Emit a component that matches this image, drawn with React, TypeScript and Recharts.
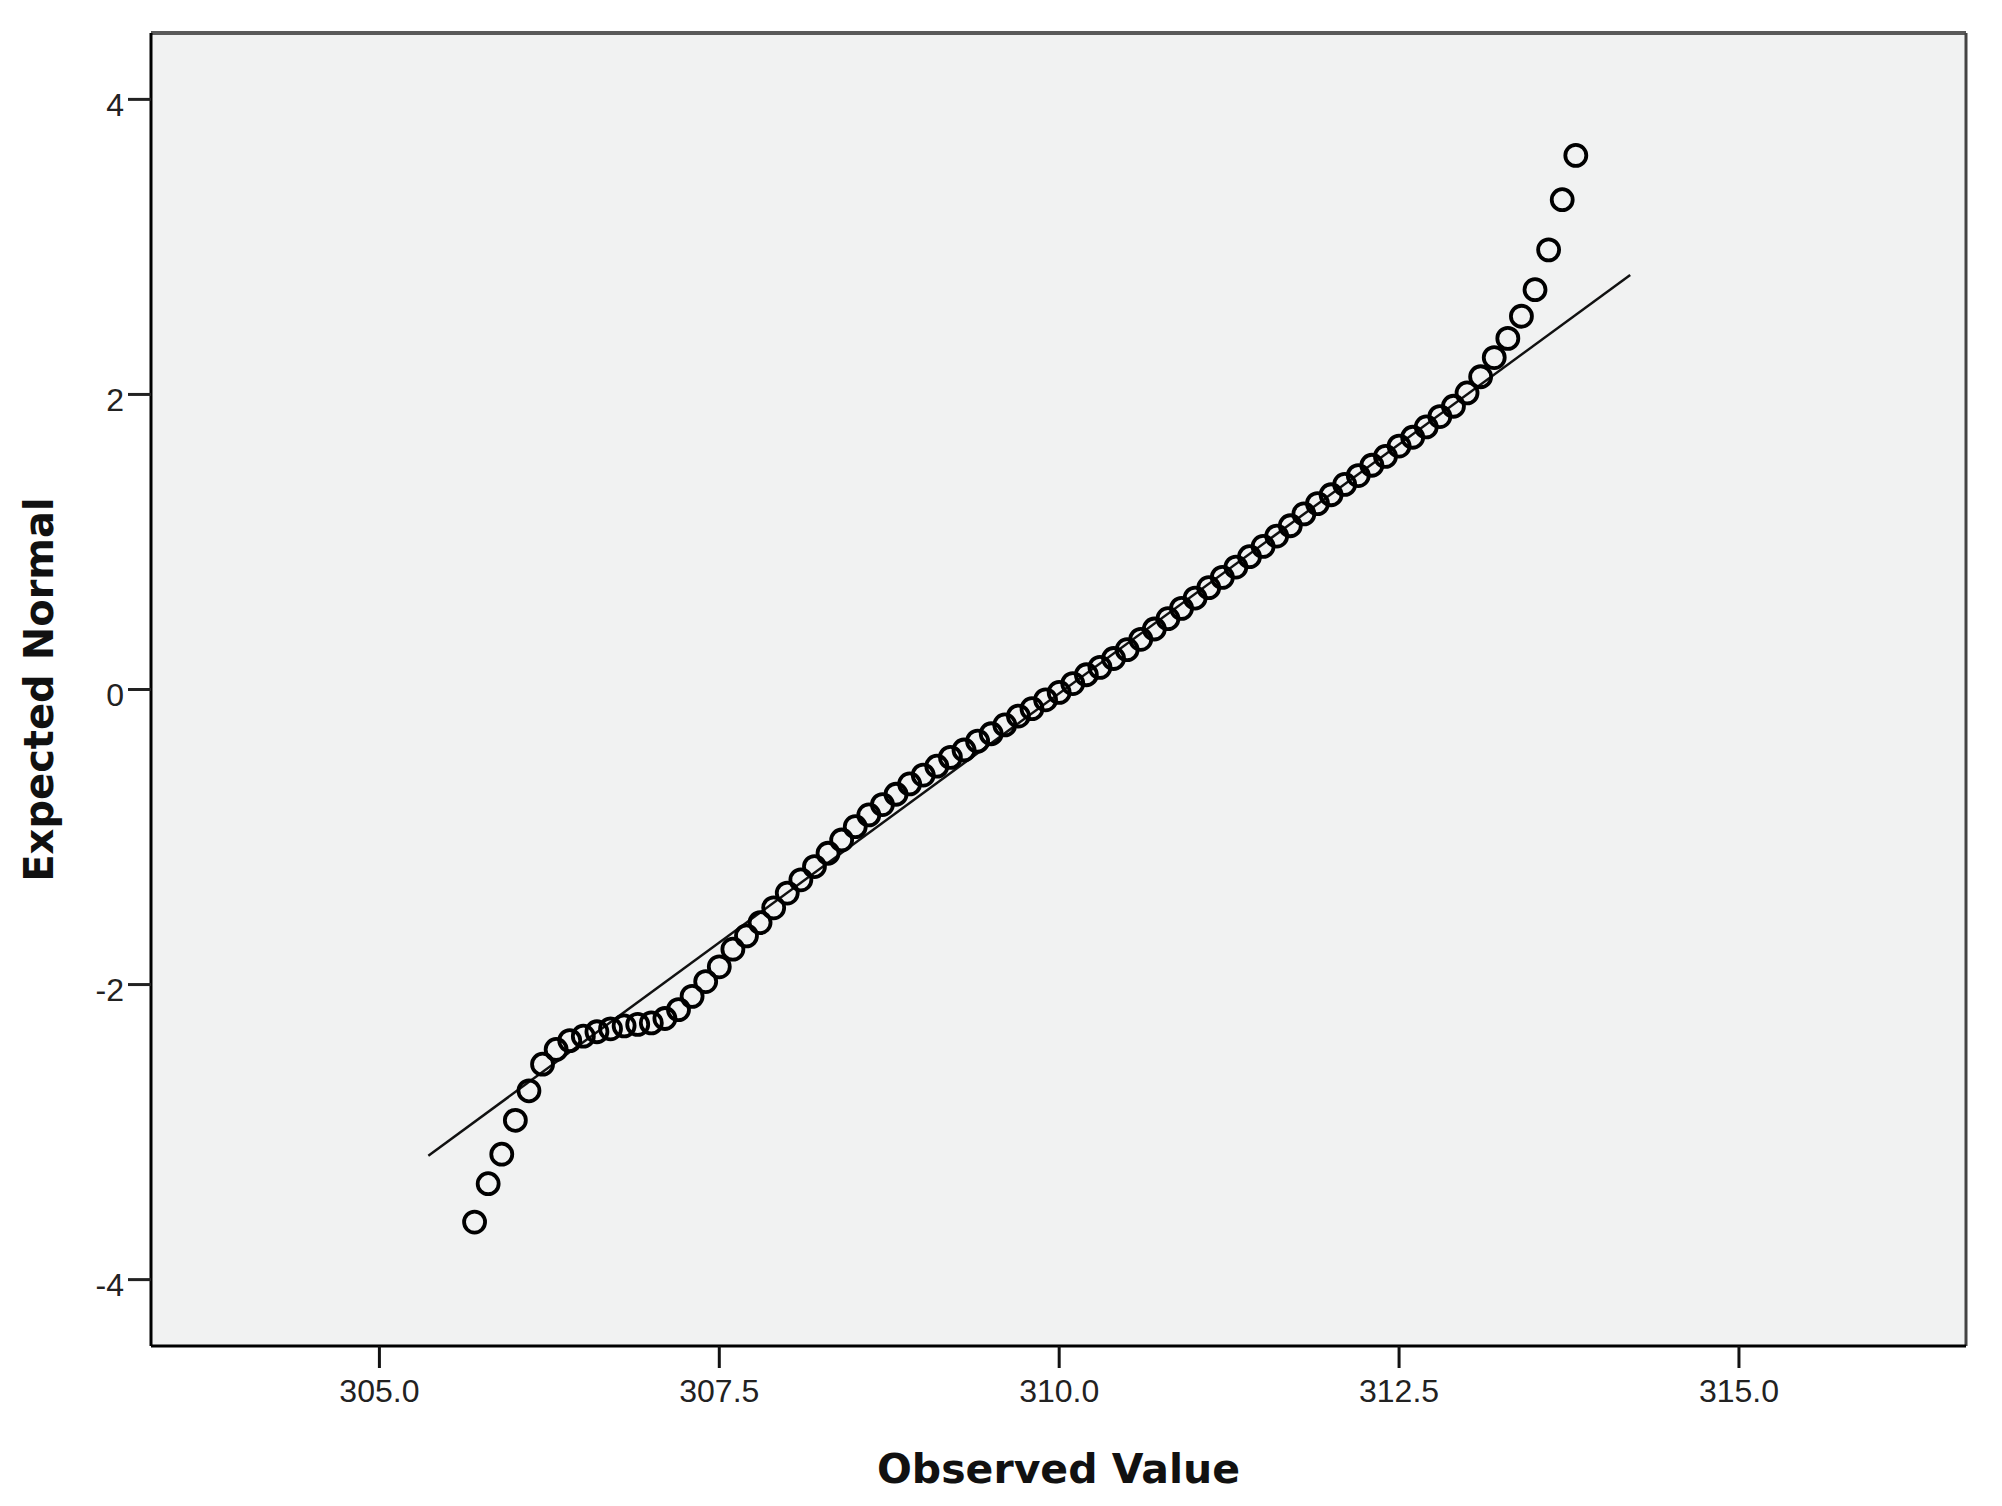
import { ScatterChart, Scatter, XAxis, YAxis, CartesianGrid, ReferenceLine } from "recharts";

// Normal Q-Q plot: one point per distinct observed value
const observedValues = [
  305.7, 305.8, 305.9, 306.0, 306.1, 306.2, 306.3, 306.4, 306.5, 306.6,
  306.7, 306.8, 306.9, 307.0, 307.1, 307.2, 307.3, 307.4, 307.5, 307.6,
  307.7, 307.8, 307.9, 308.0, 308.1, 308.2, 308.3, 308.4, 308.5, 308.6,
  308.7, 308.8, 308.9, 309.0, 309.1, 309.2, 309.3, 309.4, 309.5, 309.6,
  309.7, 309.8, 309.9, 310.0, 310.1, 310.2, 310.3, 310.4, 310.5, 310.6,
  310.7, 310.8, 310.9, 311.0, 311.1, 311.2, 311.3, 311.4, 311.5, 311.6,
  311.7, 311.8, 311.9, 312.0, 312.1, 312.2, 312.3, 312.4, 312.5, 312.6,
  312.7, 312.8, 312.9, 313.0, 313.1, 313.2, 313.3, 313.4, 313.5, 313.6,
  313.7, 313.8,
];

const expectedNormal = [
  -3.61, -3.35, -3.15, -2.92, -2.72, -2.54, -2.44, -2.38, -2.35, -2.32,
  -2.3, -2.28, -2.27, -2.26, -2.23, -2.17, -2.08, -1.98, -1.88, -1.76,
  -1.67, -1.58, -1.48, -1.38, -1.29, -1.2, -1.11, -1.02, -0.93, -0.85,
  -0.78, -0.71, -0.64, -0.58, -0.52, -0.46, -0.41, -0.35, -0.3, -0.24,
  -0.18, -0.13, -0.07, -0.02, 0.04, 0.1, 0.15, 0.21, 0.27, 0.34,
  0.41, 0.48, 0.55, 0.62, 0.69, 0.76, 0.83, 0.9, 0.97, 1.04,
  1.11, 1.19, 1.26, 1.32, 1.39, 1.45, 1.52, 1.58, 1.65, 1.71,
  1.78, 1.85, 1.92, 2.01, 2.12, 2.25, 2.38, 2.53, 2.71, 2.98,
  3.32, 3.62,
];

const refLineEnds = [
  { x: 305.36, y: -3.16 },
  { x: 314.2, y: 2.81 },
];

const xTicks = [305, 307.5, 310, 312.5, 315];
const yTicks = [-4, -2, 0, 2, 4];
const xDomain = [303.32, 316.67];
const yDomain = [-4.45, 4.45];

const points = observedValues.map((x, i) => ({ x, y: expectedNormal[i] }));

const W = 2002;
const H = 1506;
const plotLeft = 151;
const plotTop = 33;
const plotRight = 1966;
const plotBottom = 1346;
const yAxisW = 80;
const xAxisH = 60;

const tickFont = { fontSize: 32, fill: "#222", fontFamily: "'Liberation Sans', Arial, sans-serif" };
const titleFont = "'DejaVu Sans', Verdana, sans-serif";

const Ring = (props: any) => {
  if (props.cx == null || props.cy == null) return null;
  return <circle cx={props.cx} cy={props.cy} r={10.5} fill="none" stroke="#000" strokeWidth={3.8} />;
};

export default function App() {
  return (
    <div style={{ position: "absolute", left: 0, top: 0, width: W, height: H, background: "#fff" }}>
      <ScatterChart
        width={W}
        height={H}
        margin={{
          top: plotTop,
          right: W - plotRight,
          bottom: H - plotBottom - xAxisH,
          left: plotLeft - yAxisW,
        }}
      >
        <CartesianGrid fill="#F1F2F2" horizontal={false} vertical={false} />
        <XAxis
          type="number"
          dataKey="x"
          domain={xDomain}
          ticks={xTicks}
          allowDataOverflow
          height={xAxisH}
          tickFormatter={(v: number) => v.toFixed(1)}
          tick={tickFont}
          tickSize={22}
          tickMargin={11}
          axisLine={{ stroke: "#000", strokeWidth: 3 }}
          tickLine={{ stroke: "#111", strokeWidth: 3 }}
        />
        <YAxis
          type="number"
          dataKey="y"
          domain={yDomain}
          ticks={yTicks}
          allowDataOverflow
          width={yAxisW}
          tick={{ ...tickFont, dy: 5 }}
          tickSize={23}
          tickMargin={4}
          axisLine={{ stroke: "#000", strokeWidth: 3 }}
          tickLine={{ stroke: "#222", strokeWidth: 3 }}
        />
        <ReferenceLine y={yDomain[1]} stroke="#5a5a5a" strokeWidth={4} />
        <ReferenceLine x={xDomain[1]} stroke="#444" strokeWidth={3} />
        <ReferenceLine segment={refLineEnds} stroke="#111" strokeWidth={2.5} />
        <Scatter data={points} shape={Ring} isAnimationActive={false} />
        <text
          x={(plotLeft + plotRight) / 2}
          y={1483}
          textAnchor="middle"
          fontFamily={titleFont}
          fontWeight="bold"
          fontSize={41}
          fill="#111"
        >
          Observed Value
        </text>
        <text
          x={53}
          y={(plotTop + plotBottom) / 2}
          textAnchor="middle"
          transform={`rotate(-90 53 ${(plotTop + plotBottom) / 2})`}
          fontFamily={titleFont}
          fontWeight="bold"
          fontSize={40}
          fill="#111"
        >
          Expected Normal
        </text>
      </ScatterChart>
    </div>
  );
}
